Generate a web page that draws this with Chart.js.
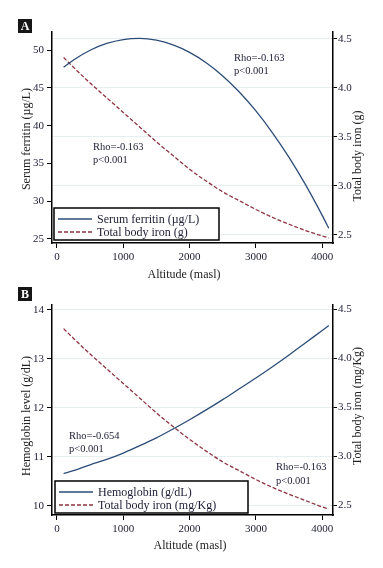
<!DOCTYPE html>
<html>
<head>
<meta charset="utf-8">
<script src="https://cdn.jsdelivr.net/npm/chart.js@4.4.1/dist/chart.umd.min.js"></script>
<style>
  html, body { margin: 0; padding: 0; background: #fff; }
  .panel { position: relative; width: 383px; height: 284px; }
</style>
</head>
<body>
<div class="panel"><canvas id="chartA" width="383" height="284"></canvas></div>
<div class="panel"><canvas id="chartB" width="383" height="284"></canvas></div>
<script>
// altitude (masl) sampled along the fitted curves
const altitude = [100, 250, 500, 750, 1000, 1250, 1500, 1750, 2000, 2250, 2500, 2750, 3000, 3250, 3500, 3750, 4000, 4100];
// panel A
const ferritin = [47.75, 48.70, 49.98, 50.88, 51.40, 51.55, 51.31, 50.70, 49.71, 48.34, 46.59, 44.46, 41.95, 39.06, 35.80, 32.16, 28.13, 26.42];
const ironGrams = [4.31, 4.21, 4.05, 3.90, 3.75, 3.60, 3.45, 3.31, 3.17, 3.05, 2.94, 2.85, 2.76, 2.68, 2.61, 2.545, 2.49, 2.47];
// panel B
const hemoglobin = [10.66, 10.72, 10.84, 10.95, 11.08, 11.23, 11.39, 11.57, 11.76, 11.96, 12.17, 12.39, 12.61, 12.84, 13.08, 13.33, 13.58, 13.68];
const ironMgKg = [4.30, 4.20, 4.04, 3.89, 3.74, 3.59, 3.44, 3.30, 3.17, 3.05, 2.94, 2.85, 2.76, 2.68, 2.61, 2.545, 2.48, 2.46];

const xTicks = [0, 1000, 2000, 3000, 4000];
const ferritinTicks = [25, 30, 35, 40, 45, 50];
const hbTicks = [10, 11, 12, 13, 14];
const ironTicks = [2.5, 3.0, 3.5, 4.0, 4.5];

const BLUE = '#2c4c78';
const RED = '#8e3341';
const INK = '#1c1c34';
const SERIF = '"Liberation Serif", "DejaVu Serif", serif';

const toPoints = ys => altitude.map((a, i) => ({ x: a, y: ys[i] }));
const fixTicks = list => scale => { scale.ticks = list.map(v => ({ value: v })); };

// draws panel letter, axis titles, Rho notes and the boxed legend
const decor = {
    id: 'decor',
    afterDraw(chart, args, o) {
        const ctx = chart.ctx;
        const sx = chart.scales.x, sy = chart.scales.y;
        ctx.save();

        // panel letter
        ctx.fillStyle = '#161616';
        ctx.fillRect(18, o.letterTop, 14, 14);
        ctx.fillStyle = '#fff';
        ctx.font = 'bold 12px ' + SERIF;
        ctx.textAlign = 'center';
        ctx.textBaseline = 'middle';
        ctx.fillText(o.letter, 25, o.letterTop + 7.5);

        // axis titles
        ctx.fillStyle = '#222';
        ctx.font = '12px ' + SERIF;
        ctx.fillText('Altitude (masl)', o.xTitleX, o.xTitleY);
        ctx.save();
        ctx.translate(27, o.yTitleY);
        ctx.rotate(-Math.PI / 2);
        ctx.fillText(o.yTitle, 0, 0);
        ctx.restore();
        ctx.save();
        ctx.translate(358, o.y1TitleY);
        ctx.rotate(-Math.PI / 2);
        ctx.fillText(o.y1Title, 0, 0);
        ctx.restore();

        // correlation notes
        ctx.fillStyle = INK;
        ctx.font = '10.5px ' + SERIF;
        ctx.textAlign = 'left';
        o.notes.forEach(n => {
            const px = sx.getPixelForValue(n.x);
            const py = sy.getPixelForValue(n.y);
            n.lines.forEach((t, k) => ctx.fillText(t, px, py + k * 13.5));
        });

        // legend
        const lg = o.legend;
        ctx.fillStyle = '#fff';
        ctx.fillRect(lg.left, lg.top, lg.width, 32);
        ctx.strokeStyle = '#000';
        ctx.lineWidth = 1.5;
        ctx.strokeRect(lg.left, lg.top, lg.width, 32);
        ctx.font = '12px ' + SERIF;
        ctx.textBaseline = 'middle';
        chart.data.datasets.forEach((ds, k) => {
            const y = lg.top + 11 + k * 13;
            ctx.strokeStyle = ds.borderColor;
            ctx.lineWidth = 1.3;
            ctx.setLineDash(ds.borderDash || []);
            ctx.beginPath();
            ctx.moveTo(lg.left + 4, y);
            ctx.lineTo(lg.left + 38, y);
            ctx.stroke();
            ctx.setLineDash([]);
            ctx.fillStyle = INK;
            ctx.fillText(ds.label, lg.left + 43, y + 0.5);
        });
        ctx.restore();
    }
};

function makeChart(id, cfg) {
    const tickFont = { family: SERIF, size: 11 };
    return new Chart(document.getElementById(id), {
        type: 'line',
        data: {
            datasets: [{
                label: cfg.leftLabel,
                data: toPoints(cfg.leftData),
                yAxisID: 'y',
                borderColor: BLUE,
                borderWidth: 1.3,
                pointRadius: 0,
                cubicInterpolationMode: 'monotone'
            }, {
                label: cfg.rightLabel,
                data: toPoints(cfg.rightData),
                yAxisID: 'y1',
                borderColor: RED,
                borderWidth: 1.3,
                borderDash: [4, 2],
                pointRadius: 0,
                cubicInterpolationMode: 'monotone'
            }]
        },
        options: {
            responsive: false,
            animation: false,
            events: [],
            layout: { padding: { left: 0, right: 0, top: cfg.top, bottom: 0 } },
            scales: {
                x: {
                    type: 'linear',
                    min: -75,
                    max: 4163,
                    afterBuildTicks: fixTicks(xTicks),
                    afterFit: s => { s.height = cfg.xHeight; },
                    grid: { drawOnChartArea: false, tickLength: 5, tickColor: '#000' },
                    border: { color: '#000', width: 1.5 },
                    ticks: { font: tickFont, color: INK, padding: 3, maxRotation: 0, callback: v => String(v) }
                },
                y: {
                    position: 'left',
                    min: cfg.leftMin,
                    max: cfg.leftMax,
                    afterBuildTicks: fixTicks(cfg.leftTicks),
                    afterFit: s => { s.width = 52; },
                    grid: { drawOnChartArea: false, tickLength: 5, tickColor: '#000' },
                    border: { color: '#000', width: 1.5 },
                    ticks: { font: tickFont, color: INK, padding: 3, callback: v => String(v) }
                },
                y1: {
                    position: 'right',
                    min: cfg.rightMin,
                    max: cfg.rightMax,
                    afterBuildTicks: fixTicks(ironTicks),
                    afterFit: s => { s.width = 50; },
                    grid: { color: '#e6eef0', lineWidth: 1, tickLength: 4, tickColor: '#000' },
                    border: { color: '#000', width: 1.5 },
                    ticks: { font: tickFont, color: INK, padding: 1, callback: v => v.toFixed(1) }
                }
            },
            plugins: {
                legend: { display: false },
                tooltip: { enabled: false },
                decor: cfg.decor
            }
        },
        plugins: [decor]
    });
}

makeChart('chartA', {
    leftLabel: 'Serum ferritin (\u00b5g/L)',
    rightLabel: 'Total body iron (g)',
    leftData: ferritin,
    rightData: ironGrams,
    leftTicks: ferritinTicks,
    leftMin: 24.47, leftMax: 52.4,
    rightMin: 2.418, rightMax: 4.571,
    top: 32, xHeight: 41,
    decor: {
        letter: 'A', letterTop: 19,
        xTitleX: 184, xTitleY: 275,
        yTitle: 'Serum ferritin (\u00b5g/L)', yTitleY: 139,
        y1Title: 'Total body iron (g)', y1TitleY: 156,
        notes: [
            { x: 2670, y: 48.94, lines: ['Rho=-0.163', 'p<0.001'] },
            { x: 543, y: 37.17, lines: ['Rho=-0.163', 'p<0.001'] }
        ],
        legend: { left: 54, top: 208, width: 165 }
    }
});

makeChart('chartB', {
    leftLabel: 'Hemoglobin (g/dL)',
    rightLabel: 'Total body iron (mg/Kg)',
    leftData: hemoglobin,
    rightData: ironMgKg,
    leftTicks: hbTicks,
    leftMin: 9.816, leftMax: 14.1,
    rightMin: 2.398, rightMax: 4.541,
    top: 21, xHeight: 53,
    decor: {
        letter: 'B', letterTop: 3,
        xTitleX: 190, xTitleY: 262,
        yTitle: 'Hemoglobin level (g/dL)', yTitleY: 132,
        y1Title: 'Total body iron (mg/Kg)', y1TitleY: 122,
        notes: [
            { x: 181, y: 11.43, lines: ['Rho=-0.654', 'p<0.001'] },
            { x: 3303, y: 10.78, lines: ['Rho=-0.163', 'p<0.001'] }
        ],
        legend: { left: 55, top: 197, width: 193 }
    }
});
</script>
</body>
</html>
